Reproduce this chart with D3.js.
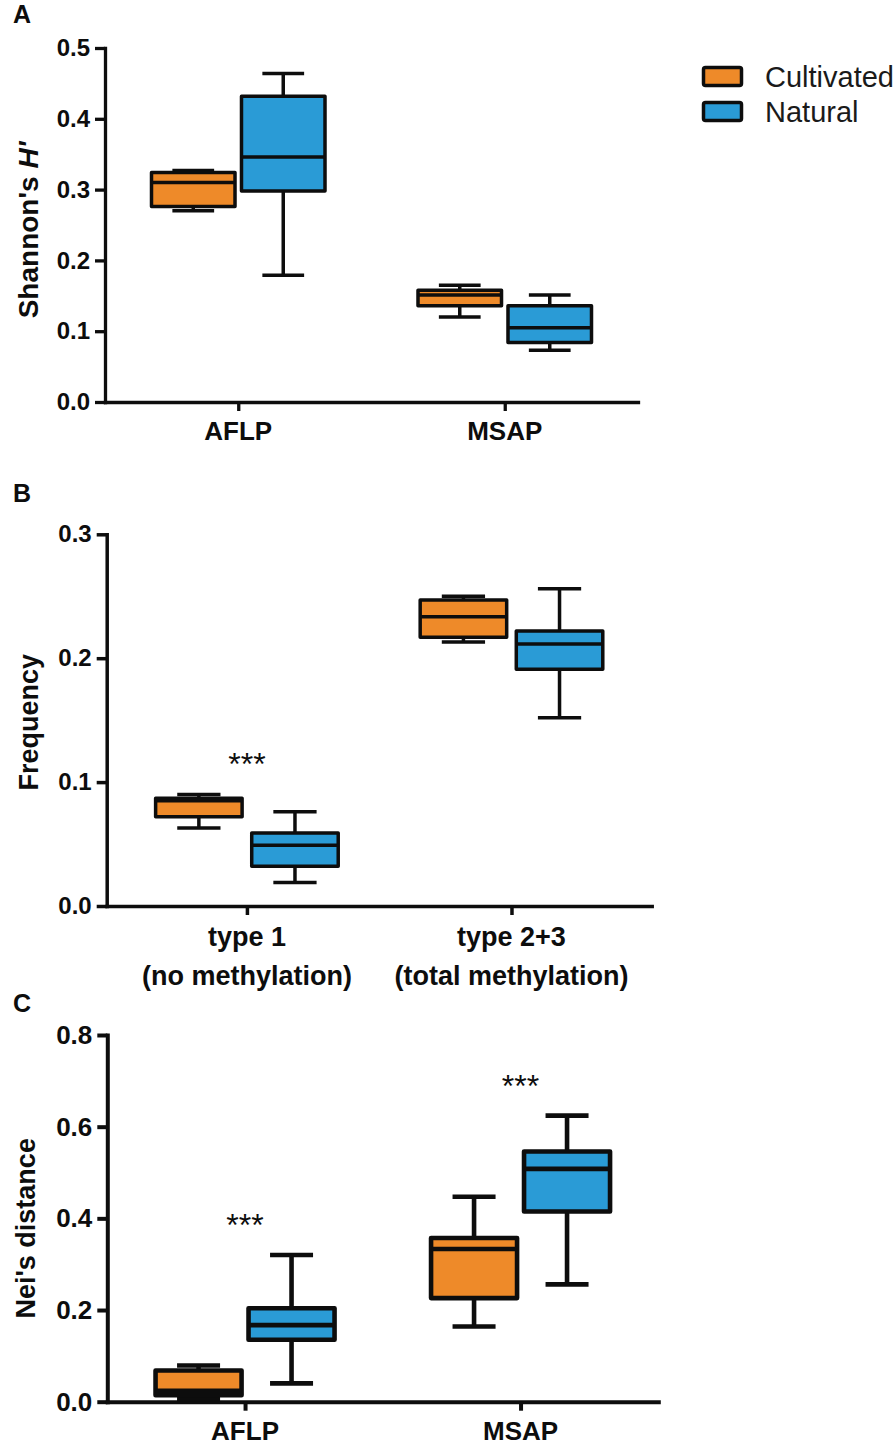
<!DOCTYPE html>
<html>
<head>
<meta charset="utf-8">
<script src="https://cdn.jsdelivr.net/npm/d3@7"></script>
<style>
  body { margin: 0; background: #fff; }
  svg { display: block; font-family: "Liberation Sans", Arial, sans-serif; }
</style>
</head>
<body>
<div id="chart"></div>
<script>
// box summaries: [min, Q1, median, Q3, max]
const seriesNames = ["Cultivated", "Natural"];
const seriesColors = ["#EE8A29", "#2A9BD6"];

// A: Shannon's H'
const shannonGroups = ["AFLP", "MSAP"];
const shannonTicks = [0, 0.1, 0.2, 0.3, 0.4, 0.5];
const shannonCultivated = [[0.270, 0.276, 0.310, 0.324, 0.327], [0.120, 0.136, 0.151, 0.158, 0.165]];
const shannonNatural = [[0.179, 0.298, 0.346, 0.432, 0.464], [0.073, 0.084, 0.105, 0.136, 0.151]];
const shannonStars = ["", ""];

// B: frequency of methylation types
const freqGroups = ["type 1", "type 2+3"];
const freqSubLabels = ["(no methylation)", "(total methylation)"];
const freqTicks = [0, 0.1, 0.2, 0.3];
const freqCultivated = [[0.063, 0.072, 0.085, 0.087, 0.090], [0.213, 0.217, 0.2335, 0.247, 0.250]];
const freqNatural = [[0.019, 0.032, 0.049, 0.059, 0.076], [0.152, 0.191, 0.2115, 0.222, 0.256]];
const freqStars = ["***", ""];

// C: Nei's distance
const neiGroups = ["AFLP", "MSAP"];
const neiTicks = [0, 0.2, 0.4, 0.6, 0.8];
const neiCultivated = [[0.006, 0.014, 0.024, 0.068, 0.079], [0.164, 0.226, 0.333, 0.357, 0.447]];
const neiNatural = [[0.040, 0.135, 0.167, 0.204, 0.320], [0.256, 0.415, 0.508, 0.546, 0.624]];
const neiStars = ["***", "***"];

const width = 895, height = 1446;
const ink = "#0d0d0d";

const svg = d3.select("#chart").append("svg")
  .attr("width", width)
  .attr("height", height)
  .attr("viewBox", [0, 0, width, height]);

const panels = [
  {
    letter: "A", letterY: 23,
    groups: shannonGroups, sub: null, ticks: shannonTicks,
    series: [shannonCultivated, shannonNatural], stars: shannonStars,
    label: ["Shannon's ", "H'"],
    left: 105, right: 638, top: 48, bottom: 402, pad: 0.5,
    half: 86.75, inner: 0.072, sw: 3.5, axisW: 3.3,
    tickFont: 24, catFont: 26, catDy: 38, labelX: 38, labelDy: 5, labelFont: 28
  },
  {
    letter: "B", letterY: 502,
    groups: freqGroups, sub: freqSubLabels, ticks: freqTicks,
    series: [freqCultivated, freqNatural], stars: freqStars,
    label: ["Frequency"],
    left: 106.7, right: 651.7, top: 534.3, bottom: 906, pad: 0.53,
    half: 91.3, inner: 0.1, sw: 3.5, axisW: 3.5,
    tickFont: 24, catFont: 27, catDy: 40, labelX: 37.5, labelDy: 2, labelFont: 27
  },
  {
    letter: "C", letterY: 1012,
    groups: neiGroups, sub: null, ticks: neiTicks,
    series: [neiCultivated, neiNatural], stars: neiStars,
    label: ["Nei's distance"],
    left: 107.3, right: 658.3, top: 1035, bottom: 1401.7, pad: 0.5,
    half: 89.5, inner: 0.075, sw: 4.6, axisW: 4,
    tickFont: 26, catFont: 26, catDy: 38, labelX: 35, labelDy: 10, labelFont: 27
  }
];

panels.forEach(drawPanel);
drawLegend();

function drawPanel(p) {
  const g = svg.append("g");

  const y = d3.scaleLinear()
    .domain([0, d3.max(p.ticks)])
    .range([p.bottom, p.top]);

  const x = d3.scalePoint()
    .domain(p.groups)
    .range([p.left, p.right])
    .padding(p.pad);

  const xs = d3.scaleBand()
    .domain(seriesNames)
    .range([-p.half, p.half])
    .paddingInner(p.inner);

  // panel letter
  g.append("text")
    .attr("x", 13)
    .attr("y", p.letterY)
    .attr("font-size", 25)
    .attr("font-weight", "bold")
    .attr("fill", ink)
    .text(p.letter);

  // y axis
  const ya = g.append("g")
    .attr("transform", `translate(${p.left},0)`)
    .call(d3.axisLeft(y).tickValues(p.ticks).tickFormat(d3.format(".1f"))
      .tickSize(10).tickSizeOuter(0).tickPadding(5));
  ya.select(".domain").attr("stroke", ink).attr("stroke-width", p.axisW).attr("stroke-linecap", "square");
  ya.selectAll(".tick line").attr("stroke", ink).attr("stroke-width", p.axisW);
  ya.selectAll(".tick text")
    .attr("fill", ink)
    .attr("font-size", p.tickFont)
    .attr("font-weight", "bold")
    .attr("font-family", "Liberation Sans, Arial, sans-serif");

  // x axis
  const xa = g.append("g")
    .attr("transform", `translate(0,${p.bottom})`)
    .call(d3.axisBottom(x).tickFormat("").tickSize(9).tickSizeOuter(0));
  xa.select(".domain").attr("stroke", ink).attr("stroke-width", p.axisW).attr("stroke-linecap", "square");
  xa.selectAll(".tick line").attr("stroke", ink).attr("stroke-width", p.axisW);

  const cat = g.append("g")
    .attr("font-size", p.catFont)
    .attr("font-weight", "bold")
    .attr("fill", ink)
    .attr("text-anchor", "middle");
  cat.selectAll("text.main")
    .data(p.groups)
    .join("text")
    .attr("class", "main")
    .attr("x", d => x(d))
    .attr("y", p.bottom + p.catDy)
    .text(d => d);
  if (p.sub) {
    cat.selectAll("text.sub")
      .data(p.sub)
      .join("text")
      .attr("class", "sub")
      .attr("x", (d, i) => x(p.groups[i]))
      .attr("y", p.bottom + p.catDy + 39)
      .text(d => d);
  }

  // y label
  const yl = g.append("text")
    .attr("transform", `translate(${p.labelX},${(p.top + p.bottom) / 2 + p.labelDy}) rotate(-90)`)
    .attr("text-anchor", "middle")
    .attr("font-size", p.labelFont)
    .attr("font-weight", "bold")
    .attr("fill", ink);
  yl.append("tspan").text(p.label[0]);
  if (p.label[1]) yl.append("tspan").attr("font-style", "italic").text(p.label[1]);

  // boxes
  const rows = [];
  p.groups.forEach((grp, gi) => {
    seriesNames.forEach((s, si) => {
      const [mn, q1, md, q3, mx] = p.series[si][gi];
      rows.push({ grp, s, si, mn, q1, md, q3, mx });
    });
  });

  const bw = xs.bandwidth();
  const boxes = g.append("g")
    .attr("stroke", ink)
    .attr("stroke-width", p.sw)
    .attr("stroke-linejoin", "round")
    .selectAll("g")
    .data(rows)
    .join("g")
    .attr("transform", d => `translate(${x(d.grp) + xs(d.s) + bw / 2},0)`);

  boxes.append("line")
    .attr("y1", d => y(d.mn)).attr("y2", d => y(d.mx));
  boxes.append("line")
    .attr("x1", -bw / 4).attr("x2", bw / 4)
    .attr("y1", d => y(d.mx)).attr("y2", d => y(d.mx));
  boxes.append("line")
    .attr("x1", -bw / 4).attr("x2", bw / 4)
    .attr("y1", d => y(d.mn)).attr("y2", d => y(d.mn));
  boxes.append("rect")
    .attr("x", -bw / 2)
    .attr("width", bw)
    .attr("y", d => y(d.q3))
    .attr("height", d => y(d.q1) - y(d.q3))
    .attr("fill", d => seriesColors[d.si]);
  boxes.append("line")
    .attr("x1", -bw / 2).attr("x2", bw / 2)
    .attr("y1", d => y(d.md)).attr("y2", d => y(d.md));

  // significance
  g.append("g")
    .attr("font-size", 32)
    .attr("fill", ink)
    .attr("text-anchor", "middle")
    .selectAll("text")
    .data(p.groups)
    .join("text")
    .attr("x", d => x(d))
    .attr("y", (d, i) => {
      const top = d3.max(p.series, s => s[i][4]);
      return y(top) - 19;
    })
    .text((d, i) => p.stars[i]);
}

function drawLegend() {
  const lg = svg.append("g")
    .selectAll("g")
    .data(seriesNames)
    .join("g")
    .attr("transform", (d, i) => `translate(703.5,${67.5 + i * 35})`);
  lg.append("rect")
    .attr("width", 38)
    .attr("height", 18)
    .attr("rx", 2)
    .attr("fill", (d, i) => seriesColors[i])
    .attr("stroke", ink)
    .attr("stroke-width", 3.5);
  lg.append("text")
    .attr("x", 61.5)
    .attr("y", 19.5)
    .attr("font-size", 29)
    .attr("fill", "#1a1a1a")
    .text(d => d);
}
</script>
</body>
</html>
